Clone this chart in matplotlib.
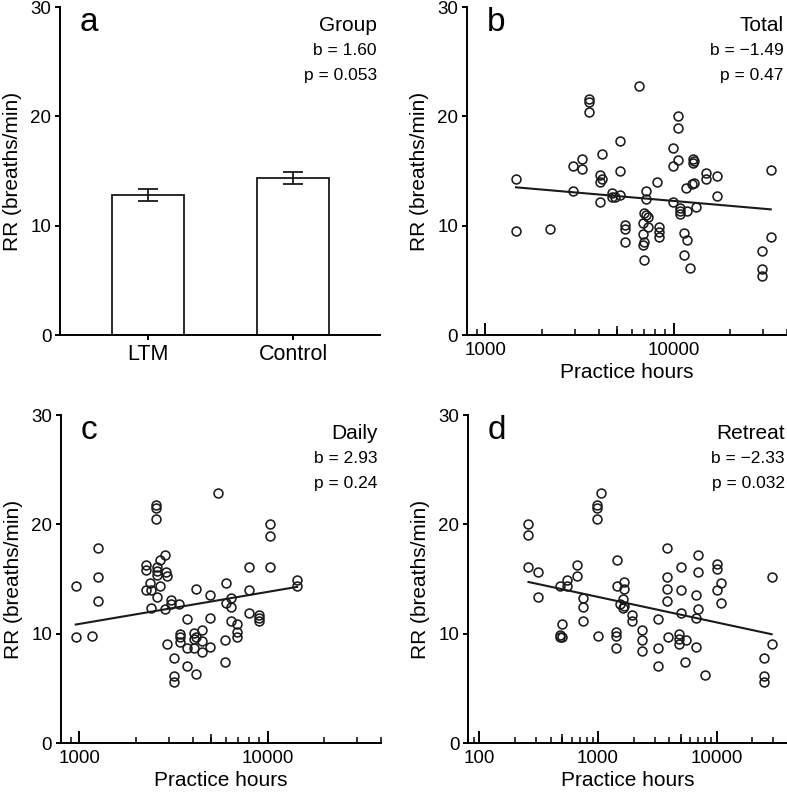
import numpy as np
import matplotlib.pyplot as plt
from matplotlib.ticker import LogLocator, NullFormatter, FuncFormatter

plt.rcParams['font.family'] = ['Liberation Sans', 'DejaVu Sans']

# ---- data ----
groups = ['LTM', 'Control']
group_rr = [12.8, 14.4]
group_sem = [0.58, 0.55]

total_hours = [6550, 3540, 3540, 3540, 10500, 10500, 5200, 4170, 9890, 3250,
               2910, 3250, 10500, 9890, 12680, 12900, 12680, 5200, 4070, 4170,
               4070, 14820, 14820, 17010, 12900, 12450, 11650, 8140, 1456, 32800,
               2910, 7160, 4690, 4890, 5200, 4690, 4070, 7160, 9890, 17010,
               10860, 10860, 10860, 11740, 13160, 6990, 7140, 7340, 5540, 5540,
               6860, 7340, 8340, 8340, 8340, 6860, 6990, 6860, 6990, 5540,
               1456, 2215, 11400, 11740, 32800, 11400, 29400, 12230, 29400, 29400]
total_rr = [22.8, 21.6, 21.35, 20.4, 20.0, 18.9, 17.7, 16.6, 17.1, 16.1,
            15.5, 15.15, 16.0, 15.5, 16.1, 15.9, 15.75, 15.0, 14.6, 14.3,
            14.0, 14.8, 14.3, 14.5, 13.9, 13.85, 13.4, 14.0, 14.3, 15.1,
            13.2, 13.2, 13.0, 12.6, 12.85, 12.6, 12.2, 12.45, 12.2, 12.7,
            11.6, 11.3, 11.05, 11.3, 11.7, 11.2, 11.0, 10.75, 10.05, 9.65,
            10.2, 9.85, 9.85, 9.4, 9.0, 9.2, 8.55, 8.25, 6.9, 8.5,
            9.5, 9.7, 9.3, 8.7, 8.95, 7.3, 7.7, 6.15, 6.0, 5.4]

daily_hours = [5480, 2550, 2550, 2550, 10300, 10300, 1265, 2846, 2678, 2273,
               2273, 2593, 2593, 2593, 2871, 2931, 7930, 10300, 958, 1265,
               2388, 2273, 2410, 2678, 2593, 4150, 6000, 7930, 14350, 14350,
               4950, 6380, 6000, 6380, 1265, 3052, 3052, 3380, 2410, 2846,
               3750, 4950, 6380, 6920, 7930, 8970, 8970, 8970, 958, 1175,
               3420, 3420, 3420, 4060, 4150, 4060, 4470, 4500, 3750, 4060,
               4470, 4950, 6920, 6920, 5950, 2931, 3180, 5950, 3750, 4150,
               3180, 3180]
daily_rr = [22.9, 21.75, 21.45, 20.45, 20.05, 18.95, 17.8, 17.2, 16.75, 16.25,
            15.85, 16.1, 15.7, 15.35, 15.65, 15.25, 16.1, 16.1, 14.4, 15.2,
            14.6, 13.95, 13.95, 14.35, 13.35, 14.05, 14.6, 13.95, 14.9, 14.35,
            13.5, 13.3, 12.8, 12.45, 12.95, 13.05, 12.75, 12.75, 12.35, 12.3,
            11.3, 11.45, 11.2, 10.9, 11.85, 11.7, 11.4, 11.15, 9.65, 9.8,
            10.0, 9.65, 9.25, 10.05, 9.7, 9.5, 10.35, 9.3, 8.65, 8.65,
            8.3, 8.8, 10.15, 9.65, 9.4, 9.05, 7.8, 7.4, 7.0, 6.3,
            6.1, 5.6]

retreat_hours = [1060, 975, 975, 975, 259, 259, 3840, 6920, 1455, 10000,
                 10000, 670, 5000, 259, 314, 6920, 670, 29100, 3840, 551,
                 1656, 1455, 1656, 478, 551, 10800, 3840, 5000, 10000, 6650,
                 314, 752, 752, 1615, 1532, 1640, 1615, 3840, 10800, 6920,
                 752, 5000, 6650, 1945, 1945, 3220, 2335, 494, 478, 494,
                 478, 1000, 1418, 1418, 1418, 2335, 2335, 3220, 3865, 4810,
                 4810, 4810, 5480, 6650, 3220, 5410, 7970, 29100, 25200, 25200,
                 25200]
retreat_rr = [22.85, 21.75, 21.45, 20.45, 20.05, 19.0, 17.8, 17.15, 16.7, 16.4,
              15.95, 16.25, 16.1, 16.1, 15.6, 15.65, 15.25, 15.2, 15.2, 14.95,
              14.75, 14.35, 14.05, 14.4, 14.35, 14.6, 14.1, 14.0, 13.95, 13.5,
              13.35, 13.25, 12.45, 13.2, 12.75, 12.55, 12.35, 13.0, 12.85, 12.3,
              11.2, 11.85, 11.45, 11.7, 11.2, 11.3, 10.35, 10.9, 9.85, 9.7,
              9.65, 9.8, 10.15, 9.75, 8.65, 9.4, 8.4, 8.65, 9.7, 10.0,
              9.5, 9.1, 9.4, 8.8, 7.05, 7.4, 6.25, 9.05, 7.8, 6.1,
              5.6]

# regression: RR = a + b*log10(hours)
fit_b = {'Total': -1.49, 'Daily': 2.93, 'Retreat': -2.33}
fit_a = {'Total': 18.22, 'Daily': 2.10, 'Retreat': 20.35}
stats = {'Group': ('1.60', '0.053'), 'Total': ('\u22121.49', '0.47'),
         'Daily': ('2.93', '0.24'), 'Retreat': ('\u22122.33', '0.032')}

W, H = 787, 794
fig = plt.figure(figsize=(W / 100, H / 100), dpi=100)
aw, ah = 320 / W, 328 / H
ax_a = fig.add_axes([60 / W, 1 - 335 / H, aw, ah])
ax_b = fig.add_axes([467 / W, 1 - 335 / H, aw, ah])
ax_c = fig.add_axes([61 / W, 1 - 743 / H, aw, ah])
ax_d = fig.add_axes([468 / W, 1 - 743 / H, aw, ah])

LW = 1.4


def style(ax, letter, name):
    for s in ['top', 'right']:
        ax.spines[s].set_visible(False)
    for s in ['left', 'bottom']:
        ax.spines[s].set_linewidth(LW)
    ax.set_ylim(0, 30)
    ax.set_yticks([0, 10, 20, 30])
    ax.tick_params(axis='y', direction='out', length=3.8, width=LW,
                   labelsize=13.5, pad=2.5)
    ax.set_ylabel('RR (breaths/min)', fontsize=15, labelpad=6)
    ax.text(0.0625, 0.927, letter, transform=ax.transAxes, fontsize=24,
            va='baseline', ha='left')
    bval, pval = stats[name]
    ax.text(0.99, 0.927, name, transform=ax.transAxes, fontsize=15,
            va='baseline', ha='right')
    ax.text(0.99, 0.854, 'b = ' + bval, transform=ax.transAxes, fontsize=12.5,
            va='baseline', ha='right')
    ax.text(0.99, 0.776, 'p = ' + pval, transform=ax.transAxes, fontsize=12.5,
            va='baseline', ha='right')


def scatter_panel(ax, hours, rr, xlim, letter, name):
    ax.set_xscale('log')
    ax.plot(hours, rr, 'o', ms=6.4, mfc='none', mec='#1a1a1a', mew=1.15,
            clip_on=False)
    xs = np.logspace(np.log10(min(hours)), np.log10(max(hours)), 50)
    ax.plot(xs, fit_a[name] + fit_b[name] * np.log10(xs), color='#1a1a1a', lw=1.5)
    ax.set_xlim(*xlim)
    ax.xaxis.set_major_locator(LogLocator(base=10))
    ax.xaxis.set_minor_locator(LogLocator(base=10, subs=np.arange(2, 10)))
    ax.xaxis.set_major_formatter(FuncFormatter(lambda v, p: '%d' % round(v)))
    ax.xaxis.set_minor_formatter(NullFormatter())
    ax.tick_params(axis='x', which='major', direction='in', length=8.5,
                   width=LW, labelsize=13.5, pad=5)
    ax.tick_params(axis='x', which='minor', direction='in', length=4.2, width=1.1)
    # mid-decade (5x) ticks are drawn a bit longer
    ax2 = ax.twiny()
    ax2.set_xscale('log')
    ax2.set_xlim(*xlim)
    ax2.xaxis.set_ticks_position('bottom')
    ax2.set_xticks([50, 500, 5000, 50000])
    ax2.xaxis.set_minor_locator(plt.NullLocator())
    ax2.tick_params(axis='x', which='major', direction='in', length=6.5,
                    width=1.1, labelbottom=False, labeltop=False)
    ax2.set_xlim(*xlim)
    for s in ax2.spines.values():
        s.set_visible(False)
    ax.set_xlabel('Practice hours', fontsize=15, labelpad=3)
    style(ax, letter, name)


# panel a: bar chart
xpos = np.arange(len(groups))
ax_a.bar(xpos, group_rr, width=0.5, color='white', edgecolor='#1a1a1a', lw=1.3)
ax_a.errorbar(xpos, group_rr, yerr=group_sem, fmt='none', ecolor='#1a1a1a',
              elinewidth=1.3, capsize=7, capthick=1.3)
ax_a.set_xlim(-0.607, 1.6)
ax_a.set_xticks(xpos)
ax_a.set_xticklabels(groups)
ax_a.tick_params(axis='x', direction='out', length=3.8, width=LW,
                 labelsize=15.5, pad=3)
style(ax_a, 'a', 'Group')

scatter_panel(ax_b, total_hours, total_rr, (800, 40000), 'b', 'Total')
scatter_panel(ax_c, daily_hours, daily_rr, (800, 40000), 'c', 'Daily')
scatter_panel(ax_d, retreat_hours, retreat_rr, (80, 40000), 'd', 'Retreat')

fig.savefig('out.png', dpi=100)
